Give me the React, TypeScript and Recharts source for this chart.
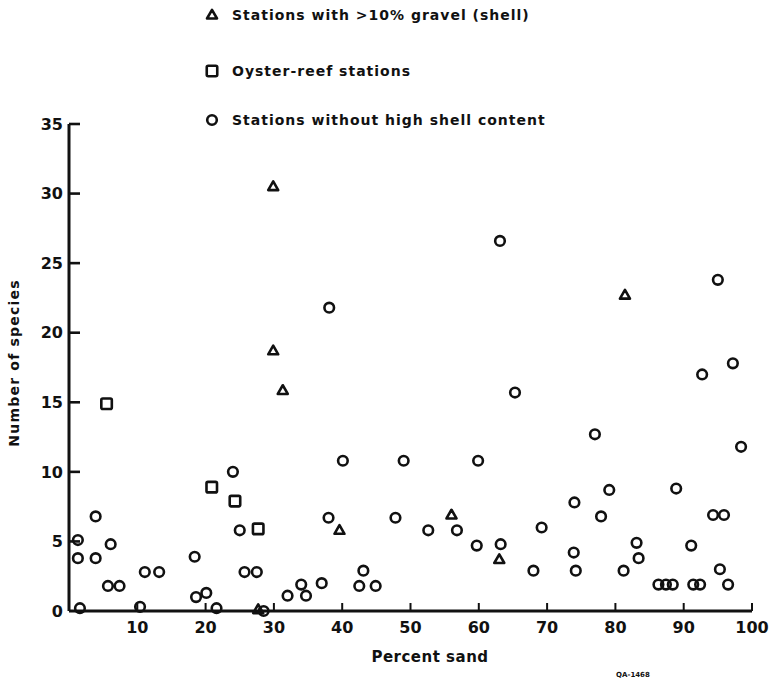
import React from "react";
import { ScatterChart, Scatter, XAxis, YAxis } from "recharts";

// Stations with >10% gravel (shell) — triangles
const gravelSand = [29.9, 29.9, 31.3, 39.6, 56.0, 63.0, 81.4, 27.7];
const gravelSpecies = [30.5, 18.7, 15.85, 5.8, 6.9, 3.7, 22.7, 0.1];

// Oyster-reef stations — squares
const oysterSand = [5.5, 20.9, 24.3, 27.7];
const oysterSpecies = [14.9, 8.9, 7.9, 5.9];

// Stations without high shell content — circles
const plainSand = [
  1.3, 1.3, 1.6, 3.9, 3.9, 6.1, 5.7, 7.4, 10.4, 11.1, 13.2, 18.4, 18.6, 20.1, 21.6, 24.0, 25.0, 25.7, 27.5, 28.5,
  32.0, 34.0, 34.7, 37.0, 38.1, 38.0, 40.1, 42.5, 43.1, 44.9, 47.8, 49.0, 52.6, 56.8, 59.7, 59.9, 63.1, 63.2, 65.3,
  68.0, 69.2, 73.9, 74.0, 74.2, 77.0, 77.9, 79.1, 81.2, 83.1, 83.4, 86.3, 87.4, 88.4, 88.9, 91.1, 91.4, 92.4, 92.7,
  94.3, 95.0, 95.3, 95.9, 96.5, 97.2, 98.4
];
const plainSpecies = [
  5.1, 3.8, 0.2, 6.8, 3.8, 4.8, 1.8, 1.8, 0.3, 2.8, 2.8, 3.9, 1.0, 1.3, 0.2, 10.0, 5.8, 2.8, 2.8, 0.0,
  1.1, 1.9, 1.1, 2.0, 21.8, 6.7, 10.8, 1.8, 2.9, 1.8, 6.7, 10.8, 5.8, 5.8, 4.7, 10.8, 26.6, 4.8, 15.7,
  2.9, 6.0, 4.2, 7.8, 2.9, 12.7, 6.8, 8.7, 2.9, 4.9, 3.8, 1.9, 1.9, 1.9, 8.8, 4.7, 1.9, 1.9, 17.0,
  6.9, 23.8, 3.0, 6.9, 1.9, 17.8, 11.8
];

const xTicks = [10, 20, 30, 40, 50, 60, 70, 80, 90, 100];
const yTicks = [0, 5, 10, 15, 20, 25, 30, 35];

const legendLabels = [
  "Stations with >10% gravel (shell)",
  "Oyster-reef stations",
  "Stations without high shell content"
];

const toPoints = (xs: number[], ys: number[]) => xs.map((x, i) => ({ x, y: ys[i] }));

const INK = "#111";
const FONT = "'DejaVu Sans', sans-serif";
const AXIS_X = 69;
const AXIS_Y = 611;

function Triangle(props: any) {
  const { cx, cy } = props;
  const s = 10;
  const h = s * 0.87;
  return (
    <path
      d={`M${cx},${cy - h * 0.6} L${cx + s / 2},${cy + h * 0.4} L${cx - s / 2},${cy + h * 0.4} Z`}
      fill="none"
      stroke={INK}
      strokeWidth={2.6}
      strokeLinejoin="round"
    />
  );
}

function Square(props: any) {
  const { cx, cy } = props;
  const s = 10.5;
  return <rect x={cx - s / 2} y={cy - s / 2} width={s} height={s} rx={1.5} fill="none" stroke={INK} strokeWidth={2.6} />;
}

function Circle(props: any) {
  const { cx, cy } = props;
  return <circle cx={cx} cy={cy} r={4.8} fill="none" stroke={INK} strokeWidth={2.6} />;
}

function YTick(props: any) {
  const { y, payload } = props;
  return (
    <g>
      {payload.value !== 0 ? <line x1={AXIS_X} x2={AXIS_X + 11} y1={y} y2={y} stroke={INK} strokeWidth={2.6} /> : null}
      <text x={63} y={y} dy="0.36em" textAnchor="end" fill={INK} fontFamily={FONT} fontWeight="bold" fontSize={16}>
        {payload.value}
      </text>
    </g>
  );
}

function XTick(props: any) {
  const { x, payload } = props;
  return (
    <g>
      <line x1={x} x2={x} y1={AXIS_Y} y2={AXIS_Y - 8} stroke={INK} strokeWidth={2} />
      <text x={x} y={627} dy="0.36em" textAnchor="middle" fill={INK} fontFamily={FONT} fontWeight="bold" fontSize={16}>
        {payload.value}
      </text>
    </g>
  );
}

export default function App() {
  const legendY = [15, 71, 120];
  return (
    <div style={{ position: "absolute", left: 0, top: 0, width: 779, height: 684, background: "#fff" }}>
      <ScatterChart width={779} height={684} margin={{ top: 124, right: 27, bottom: 43, left: 29 }}>
        <XAxis
          type="number"
          dataKey="x"
          domain={[0, 100]}
          ticks={xTicks}
          height={30}
          axisLine={{ stroke: INK, strokeWidth: 3 }}
          tickLine={false}
          tick={<XTick />}
          interval={0}
        />
        <YAxis
          type="number"
          dataKey="y"
          domain={[0, 35]}
          ticks={yTicks}
          width={40}
          axisLine={{ stroke: INK, strokeWidth: 3 }}
          tickLine={false}
          tick={<YTick />}
          interval={0}
        />
        <Scatter data={toPoints(plainSand, plainSpecies)} shape={<Circle />} isAnimationActive={false} />
        <Scatter data={toPoints(oysterSand, oysterSpecies)} shape={<Square />} isAnimationActive={false} />
        <Scatter data={toPoints(gravelSand, gravelSpecies)} shape={<Triangle />} isAnimationActive={false} />
      </ScatterChart>
      <svg width={779} height={684} style={{ position: "absolute", left: 0, top: 0, pointerEvents: "none" }}>
        <Triangle cx={212} cy={legendY[0]} />
        <Square cx={212} cy={legendY[1]} />
        <Circle cx={212} cy={legendY[2]} />
        {legendLabels.map((t, i) => (
          <text
            key={t}
            x={232}
            y={legendY[i]}
            dy="0.36em"
            fill={INK}
            fontFamily={FONT}
            fontWeight="bold"
            fontSize={14}
            letterSpacing={1}
          >
            {t}
          </text>
        ))}
        <text
          x={14}
          y={363}
          dy="0.36em"
          transform="rotate(-90 14 363)"
          textAnchor="middle"
          fill={INK}
          fontFamily={FONT}
          fontWeight="bold"
          fontSize={14}
          letterSpacing={1.2}
        >
          Number of species
        </text>
        <text
          x={430}
          y={657}
          dy="0.36em"
          textAnchor="middle"
          fill={INK}
          fontFamily={FONT}
          fontWeight="bold"
          fontSize={15}
          letterSpacing={0.5}
        >
          Percent sand
        </text>
        <text x={633} y={674} dy="0.36em" textAnchor="middle" fill={INK} fontFamily={FONT} fontWeight="bold" fontSize={7}>
          QA-1468
        </text>
      </svg>
    </div>
  );
}
